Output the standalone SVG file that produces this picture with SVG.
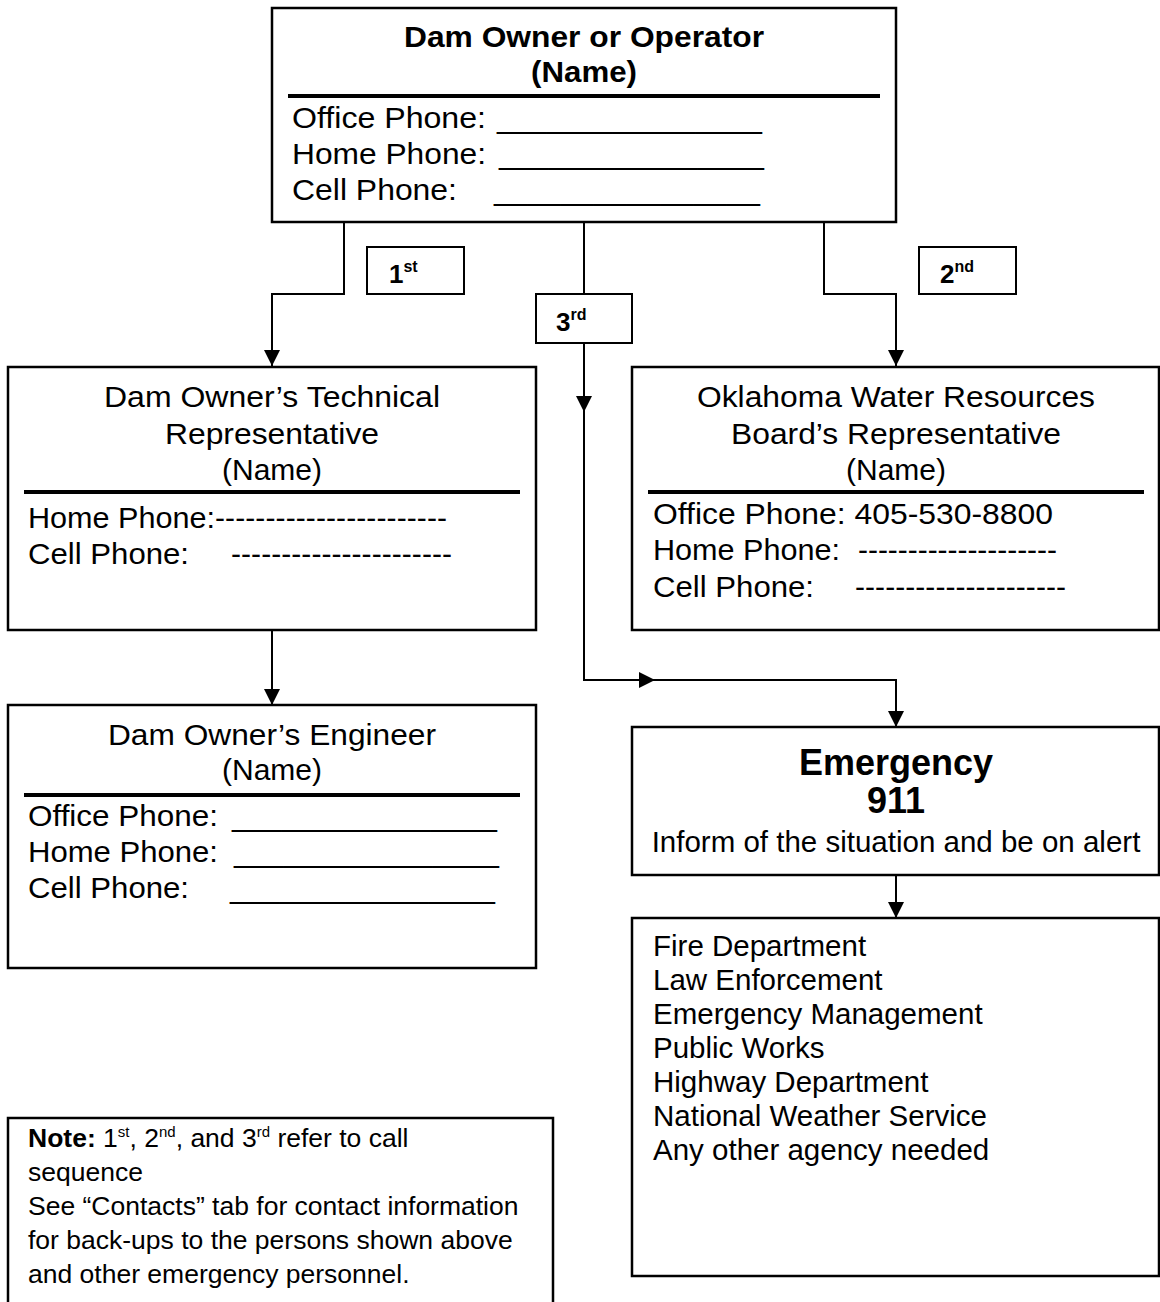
<svg xmlns="http://www.w3.org/2000/svg" width="1160" height="1302" viewBox="0 0 1160 1302">
<style>
text{font-family:"Liberation Sans",Arial,sans-serif;fill:#000}
.t{font-size:30px}
.b{font-weight:bold}
.c{text-anchor:middle}
.box{fill:#fff;stroke:#000;stroke-width:2.5}
.hr{stroke:#000;stroke-width:4}
.con{fill:none;stroke:#000;stroke-width:2}
.n{font-size:26.5px}
.a{font-size:29.5px}
</style>
<defs>
<marker id="arr" markerUnits="userSpaceOnUse" markerWidth="16" markerHeight="16" viewBox="0 0 16 16" refX="16" refY="8" orient="auto">
<path d="M0,0 L16,8 L0,16 z" fill="#000"/>
</marker>
</defs>
<rect width="1160" height="1302" fill="#fff"/>

<g id="connectors">
<path class="con" d="M344,222 V294 H272 V366" marker-end="url(#arr)"/>
<path class="con" d="M584,222 V294"/>
<path class="con" d="M584,343 V412" marker-end="url(#arr)"/>
<path class="con" d="M584,412 V680 H655" marker-end="url(#arr)"/>
<path class="con" d="M655,680 H896 V727" marker-end="url(#arr)"/>
<path class="con" d="M824,222 V294 H896 V366" marker-end="url(#arr)"/>
<path class="con" d="M272,630 V705" marker-end="url(#arr)"/>
<path class="con" d="M896,875 V918" marker-end="url(#arr)"/>
</g>

<g id="owner">
<rect class="box" x="272" y="8" width="624" height="214"/>
<text class="t b c" x="584" y="47" textLength="360" lengthAdjust="spacingAndGlyphs">Dam Owner or Operator</text>
<text class="t b c" x="584" y="82" textLength="106" lengthAdjust="spacingAndGlyphs">(Name)</text>
<line class="hr" x1="288" y1="96" x2="880" y2="96"/>
<text class="t" x="292" y="128" textLength="194" lengthAdjust="spacingAndGlyphs">Office Phone:</text>
<text class="t" x="497" y="128" textLength="265" lengthAdjust="spacing">________________</text>
<text class="t" x="292" y="164" textLength="194" lengthAdjust="spacingAndGlyphs">Home Phone:</text>
<text class="t" x="499" y="164" textLength="265" lengthAdjust="spacing">________________</text>
<text class="t" x="292" y="200" textLength="165" lengthAdjust="spacingAndGlyphs">Cell Phone:</text>
<text class="t" x="494" y="200" textLength="266" lengthAdjust="spacing">________________</text>
</g>

<g id="label-1st">
<rect class="box" x="367" y="247" width="97" height="47" style="stroke-width:2"/>
<text class="b" x="389" y="283" font-size="26">1<tspan font-size="16" dy="-11">st</tspan></text>
</g>
<g id="label-2nd">
<rect class="box" x="919" y="247" width="97" height="47" style="stroke-width:2"/>
<text class="b" x="940" y="283" font-size="26">2<tspan font-size="16" dy="-11">nd</tspan></text>
</g>
<g id="label-3rd">
<rect class="box" x="536" y="294" width="96" height="49" style="stroke-width:2"/>
<text class="b" x="556" y="331" font-size="26">3<tspan font-size="16" dy="-11">rd</tspan></text>
</g>

<g id="tech-rep">
<rect class="box" x="8" y="367" width="528" height="263"/>
<text class="t c" x="272" y="407" textLength="336" lengthAdjust="spacingAndGlyphs">Dam Owner’s Technical</text>
<text class="t c" x="272" y="444" textLength="214" lengthAdjust="spacingAndGlyphs">Representative</text>
<text class="t c" x="272" y="480" textLength="100" lengthAdjust="spacingAndGlyphs">(Name)</text>
<line class="hr" x1="24" y1="492" x2="520" y2="492"/>
<text class="t" x="28" y="528" textLength="187" lengthAdjust="spacingAndGlyphs">Home Phone:</text>
<text class="t" x="215" y="528" textLength="232" lengthAdjust="spacing">-----------------------</text>
<text class="t" x="28" y="564" textLength="161" lengthAdjust="spacingAndGlyphs">Cell Phone:</text>
<text class="t" x="231" y="564" textLength="221" lengthAdjust="spacing">----------------------</text>
</g>

<g id="owrb-rep">
<rect class="box" x="632" y="367" width="527" height="263"/>
<text class="t c" x="896" y="407" textLength="398" lengthAdjust="spacingAndGlyphs">Oklahoma Water Resources</text>
<text class="t c" x="896" y="444" textLength="330" lengthAdjust="spacingAndGlyphs">Board’s Representative</text>
<text class="t c" x="896" y="480" textLength="100" lengthAdjust="spacingAndGlyphs">(Name)</text>
<line class="hr" x1="648" y1="492" x2="1144" y2="492"/>
<text class="t" x="653" y="524" textLength="400" lengthAdjust="spacingAndGlyphs">Office Phone: 405-530-8800</text>
<text class="t" x="653" y="560" textLength="187" lengthAdjust="spacingAndGlyphs">Home Phone:</text>
<text class="t" x="858" y="560" textLength="199" lengthAdjust="spacing">--------------------</text>
<text class="t" x="653" y="597" textLength="161" lengthAdjust="spacingAndGlyphs">Cell Phone:</text>
<text class="t" x="855" y="597" textLength="211" lengthAdjust="spacing">---------------------</text>
</g>

<g id="engineer">
<rect class="box" x="8" y="705" width="528" height="263"/>
<text class="t c" x="272" y="745" textLength="328" lengthAdjust="spacingAndGlyphs">Dam Owner’s Engineer</text>
<text class="t c" x="272" y="780" textLength="100" lengthAdjust="spacingAndGlyphs">(Name)</text>
<line class="hr" x1="24" y1="795" x2="520" y2="795"/>
<text class="t" x="28" y="826" textLength="190" lengthAdjust="spacingAndGlyphs">Office Phone:</text>
<text class="t" x="232" y="826" textLength="265" lengthAdjust="spacing">________________</text>
<text class="t" x="28" y="862" textLength="190" lengthAdjust="spacingAndGlyphs">Home Phone:</text>
<text class="t" x="234" y="862" textLength="265" lengthAdjust="spacing">________________</text>
<text class="t" x="28" y="898" textLength="161" lengthAdjust="spacingAndGlyphs">Cell Phone:</text>
<text class="t" x="230" y="898" textLength="265" lengthAdjust="spacing">________________</text>
</g>

<g id="emergency">
<rect class="box" x="632" y="727" width="527" height="148"/>
<text class="b c" x="896" y="775" font-size="36">Emergency</text>
<text class="b c" x="896" y="813" font-size="36">911</text>
<text class="a c" x="896" y="852">Inform of the situation and be on alert</text>
</g>

<g id="agencies">
<rect class="box" x="632" y="918" width="527" height="358"/>
<text class="a" x="653" y="956">Fire Department</text>
<text class="a" x="653" y="990">Law Enforcement</text>
<text class="a" x="653" y="1024">Emergency Management</text>
<text class="a" x="653" y="1058">Public Works</text>
<text class="a" x="653" y="1092">Highway Department</text>
<text class="a" x="653" y="1126">National Weather Service</text>
<text class="a" x="653" y="1160">Any other agency needed</text>
</g>

<g id="note">
<path d="M8,1302 V1118 H553 V1302" fill="#fff" stroke="#000" stroke-width="2.5"/>
<text class="n" x="28" y="1147"><tspan font-weight="bold">Note:</tspan> 1<tspan font-size="15" dy="-10">st</tspan><tspan dy="10">, 2</tspan><tspan font-size="15" dy="-10">nd</tspan><tspan dy="10">, and 3</tspan><tspan font-size="15" dy="-10">rd</tspan><tspan dy="10"> refer to call</tspan></text>
<text class="n" x="28" y="1181">sequence</text>
<text class="n" x="28" y="1215">See “Contacts” tab for contact information</text>
<text class="n" x="28" y="1249">for back-ups to the persons shown above</text>
<text class="n" x="28" y="1283">and other emergency personnel.</text>
</g>
</svg>
